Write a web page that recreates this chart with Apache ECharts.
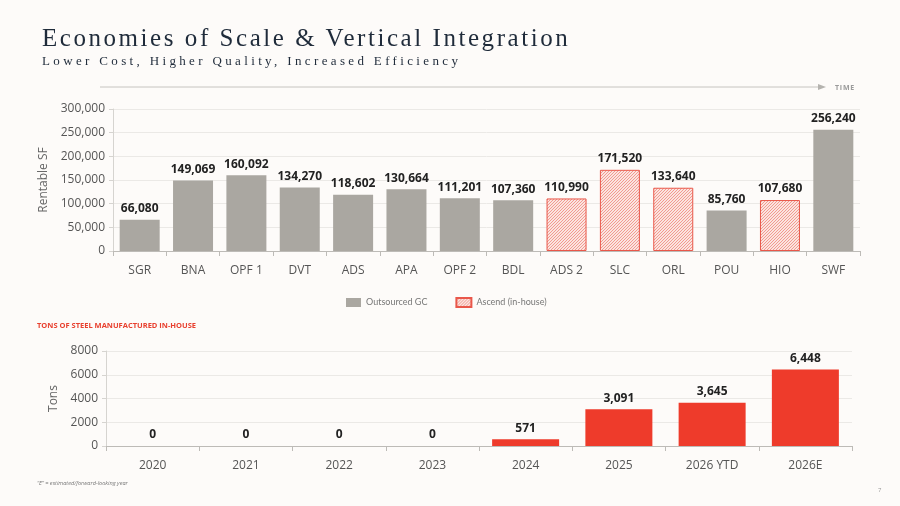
<!DOCTYPE html>
<html>
<head>
<meta charset="utf-8">
<script src="https://cdn.jsdelivr.net/npm/echarts@6/dist/echarts.min.js"></script>
<style>
  html, body { margin: 0; padding: 0; background: #fdfbf9; }
  #wrap { position: relative; width: 900px; height: 506px; overflow: hidden; }
  #chart { position: absolute; left: 0; top: 0; width: 900px; height: 506px; }
  .txt { position: absolute; white-space: nowrap; }
  #title { left: 42px; top: 24px; font-family: "Liberation Serif", serif; font-size: 25px; letter-spacing: 2.55px; color: #1f2b3a; }
  #subtitle { left: 42px; top: 53px; font-family: "Liberation Serif", serif; font-size: 13px; letter-spacing: 3.35px; color: #1f2b3a; }
  #time { left: 835px; top: 83px; font-family: "Open Sans", sans-serif; font-size: 7px; font-weight: bold; letter-spacing: 0.8px; color: #9a9a9a; }
  #steel { left: 37px; top: 320px; font-family: "Open Sans", sans-serif; font-size: 7.5px; font-weight: bold; color: #e8402f; }
  #foot { left: 37px; top: 479px; font-family: "Open Sans", sans-serif; font-size: 5.6px; font-style: italic; color: #777; }
  #page { left: 878px; top: 486px; font-family: "Open Sans", sans-serif; font-size: 6px; color: #999; }
</style>
</head>
<body>
<div id="wrap">
  <div id="chart"></div>
  <div class="txt" id="title">Economies of Scale &amp; Vertical Integration</div>
  <div class="txt" id="subtitle">Lower Cost, Higher Quality, Increased Efficiency</div>
  <div class="txt" id="time">TIME</div>
  <div class="txt" id="steel">TONS OF STEEL MANUFACTURED IN-HOUSE</div>
  <div class="txt" id="foot">“E” = estimated/forward-looking year</div>
  <div class="txt" id="page">7</div>
</div>
<script>
// top chart data
let sites = ['SGR', 'BNA', 'OPF 1', 'DVT', 'ADS', 'APA', 'OPF 2', 'BDL', 'ADS 2', 'SLC', 'ORL', 'POU', 'HIO', 'SWF'];
let sfValues = [66080, 149069, 160092, 134270, 118602, 130664, 111201, 107360, 110990, 171520, 133640, 85760, 107680, 256240];
let inHouse = ['ADS 2', 'SLC', 'ORL', 'HIO'];
let sfTicks = [0, 50000, 100000, 150000, 200000, 250000, 300000];

// bottom chart data
let years = ['2020', '2021', '2022', '2023', '2024', '2025', '2026 YTD', '2026E'];
let tons = [0, 0, 0, 0, 571, 3091, 3645, 6448];
let tonTicks = [0, 2000, 4000, 6000, 8000];

let gray = '#aaa7a1';
let red = '#ee3b2b';

// hatch pattern for in-house bars
function makeHatch() {
    let c = document.createElement('canvas');
    c.width = 3;
    c.height = 3;
    let ctx = c.getContext('2d');
    ctx.fillStyle = '#fbe4e0';
    ctx.fillRect(0, 0, 3, 3);
    ctx.fillStyle = '#f29a90';
    // one diagonal pixel per row, "/" direction
    ctx.fillRect(2, 0, 1, 1);
    ctx.fillRect(1, 1, 1, 1);
    ctx.fillRect(0, 2, 1, 1);
    return c;
}
let hatch = makeHatch();

let outsourcedData = [];
let ascendData = [];
for (let i = 0; i < sites.length; i++) {
    if (inHouse.indexOf(sites[i]) >= 0) {
        outsourcedData.push('-');
        ascendData.push(sfValues[i]);
    } else {
        outsourcedData.push(sfValues[i]);
        ascendData.push('-');
    }
}

function fmt(v) {
    return Number(v).toLocaleString('en-US');
}

let axisText = { color: '#555', fontFamily: 'Open Sans', fontSize: 12 };
let valLabel = {
    show: true,
    position: 'top',
    distance: 5,
    color: '#222',
    fontFamily: 'Open Sans',
    fontWeight: 'bold',
    fontSize: 12,
    formatter: function (p) { return fmt(p.value); }
};

let chart = echarts.init(document.getElementById('chart'));
let option = {
    backgroundColor: 'transparent',
    animation: false,
    legend: {
        top: 292,
        left: 341,
        itemWidth: 15,
        itemHeight: 9,
        itemGap: 28,
        icon: 'rect',
        textStyle: { color: '#777', fontFamily: 'Lato', fontSize: 9 },
        data: ['Outsourced GC', 'Ascend (in-house)']
    },
    graphic: [
        { type: 'line', shape: { x1: 100, y1: 87, x2: 818, y2: 87 }, style: { stroke: '#c6c4c0', lineWidth: 1 } },
        { type: 'polygon', shape: { points: [[818, 84], [826, 87], [818, 90]] }, style: { fill: '#b5b3af' } }
    ],
    grid: [
        { left: 113, right: 40, top: 109, bottom: 255 },
        { left: 106, right: 48, top: 351, bottom: 60 }
    ],
    xAxis: [
        {
            gridIndex: 0,
            type: 'category',
            data: sites,
            axisLine: { lineStyle: { color: '#bdbbb7' } },
            axisTick: { show: true, length: 5, lineStyle: { color: '#bdbbb7' } },
            axisLabel: Object.assign({ margin: 14 }, axisText)
        },
        {
            gridIndex: 1,
            type: 'category',
            data: years,
            axisLine: { lineStyle: { color: '#bdbbb7' } },
            axisTick: { show: true, length: 5, lineStyle: { color: '#bdbbb7' } },
            axisLabel: Object.assign({ margin: 14 }, axisText)
        }
    ],
    yAxis: [
        {
            gridIndex: 0,
            type: 'value',
            min: sfTicks[0],
            max: sfTicks[sfTicks.length - 1],
            interval: sfTicks[1] - sfTicks[0],
            name: 'Rentable SF',
            nameLocation: 'middle',
            nameGap: 50,
            nameTextStyle: { color: '#666', fontFamily: 'Open Sans', fontSize: 12 },
            axisLine: { show: true, lineStyle: { color: '#d6d4d0' } },
            axisTick: { show: true, length: 4, lineStyle: { color: '#d6d4d0' } },
            splitLine: { lineStyle: { color: '#ebe9e6' } },
            axisLabel: Object.assign({ margin: 8, formatter: function (v) { return fmt(v); } }, axisText)
        },
        {
            gridIndex: 1,
            type: 'value',
            min: tonTicks[0],
            max: tonTicks[tonTicks.length - 1],
            interval: tonTicks[1] - tonTicks[0],
            name: 'Tons',
            nameLocation: 'middle',
            nameGap: 36,
            nameTextStyle: { color: '#666', fontFamily: 'Open Sans', fontSize: 12 },
            axisLine: { show: true, lineStyle: { color: '#d6d4d0' } },
            axisTick: { show: true, length: 4, lineStyle: { color: '#d6d4d0' } },
            splitLine: { lineStyle: { color: '#ebe9e6' } },
            axisLabel: Object.assign({ margin: 8, formatter: function (v) { return String(v); } }, axisText)
        }
    ],
    series: [
        {
            name: 'Outsourced GC',
            type: 'bar',
            xAxisIndex: 0,
            yAxisIndex: 0,
            data: outsourcedData,
            barWidth: 40,
            barGap: '-100%',
            itemStyle: { color: gray },
            label: valLabel
        },
        {
            name: 'Ascend (in-house)',
            type: 'bar',
            xAxisIndex: 0,
            yAxisIndex: 0,
            data: ascendData,
            barWidth: 40,
            barGap: '-100%',
            itemStyle: { color: { image: hatch, repeat: 'repeat' }, borderColor: '#e9574a', borderWidth: 1 },
            label: valLabel
        },
        {
            name: 'Tons',
            type: 'bar',
            xAxisIndex: 1,
            yAxisIndex: 1,
            data: tons,
            barWidth: 67,
            itemStyle: { color: red },
            label: valLabel
        }
    ]
};
chart.setOption(option);
</script>
</body>
</html>
